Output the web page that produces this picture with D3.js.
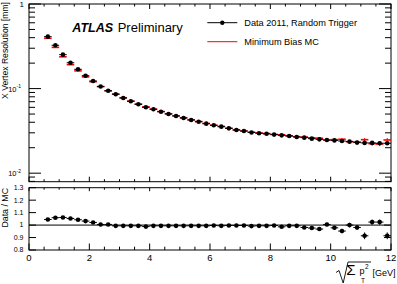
<!DOCTYPE html>
<html><head><meta charset="utf-8">
<script src="https://cdn.jsdelivr.net/npm/d3@7/dist/d3.min.js"></script>
<style>
html,body{margin:0;padding:0;background:#fff;}
svg{display:block;font-family:"Liberation Sans",Arial,Helvetica,sans-serif;}
</style></head><body>
<svg id="c" width="397" height="284"></svg>
<script>
// ---- data ----
const binCenters = [0.625,0.875,1.125,1.375,1.625,1.875,2.125,2.375,2.625,2.875,3.125,3.375,3.625,3.875,4.125,4.375,4.625,4.875,5.125,5.375,5.625,5.875,6.125,6.375,6.625,6.875,7.125,7.375,7.625,7.875,8.125,8.375,8.625,8.875,9.125,9.375,9.625,9.875,10.125,10.375,10.625,10.875,11.125,11.375,11.625,11.875];
const binHalfWidth = 0.125;
const dataRes = [0.411,0.325,0.252,0.202,0.169,0.142,0.123,0.106,0.0944,0.0857,0.0774,0.0708,0.0652,0.0601,0.0569,0.0533,0.0501,0.0474,0.0449,0.0425,0.0406,0.0385,0.0368,0.0355,0.0339,0.0324,0.0315,0.0303,0.0297,0.0292,0.0286,0.0280,0.0275,0.0268,0.0263,0.0256,0.0251,0.0247,0.0244,0.0240,0.0236,0.0230,0.0228,0.0228,0.0226,0.0226];
const mcRes = [0.3933,0.3069,0.2375,0.1918,0.1620,0.1376,0.1205,0.1055,0.0939,0.0862,0.0779,0.0712,0.0656,0.0608,0.0572,0.0536,0.0504,0.0477,0.0452,0.0428,0.0408,0.0387,0.0369,0.0357,0.0340,0.0325,0.0316,0.0305,0.0299,0.0294,0.0287,0.0284,0.0277,0.0270,0.0268,0.0262,0.0259,0.0246,0.0249,0.0252,0.0236,0.0234,0.0249,0.0223,0.0221,0.0247];
const mcErr = [0.002,0.0015,0.0012,0.001,0.0008,0.0007,0.0006,0.0005,0.0005,0.0004,0.0004,0.0004,0.0003,0.0003,0.0003,0.0003,0.0003,0.0003,0.0003,0.0003,0.0003,0.0003,0.0003,0.0003,0.0003,0.0003,0.0003,0.0003,0.0003,0.0004,0.0004,0.0005,0.0005,0.0005,0.0006,0.0006,0.0007,0.0007,0.0008,0.0008,0.0009,0.0009,0.0011,0.0011,0.0012,0.0013];
const ratio = [1.045,1.059,1.061,1.053,1.043,1.032,1.021,1.005,1.005,0.994,0.994,0.994,0.994,0.988,0.994,0.994,0.994,0.994,0.994,0.994,0.994,0.994,0.997,0.994,0.997,0.997,0.997,0.992,0.994,0.994,0.997,0.986,0.994,0.994,0.981,0.976,0.968,1.005,0.978,0.952,1.000,0.981,0.914,1.024,1.024,0.914];
const ratioErr = [0.004,0.004,0.004,0.004,0.004,0.004,0.004,0.004,0.004,0.004,0.004,0.004,0.004,0.004,0.004,0.004,0.004,0.004,0.004,0.004,0.004,0.006,0.006,0.006,0.006,0.006,0.006,0.006,0.006,0.006,0.006,0.008,0.008,0.008,0.012,0.012,0.012,0.014,0.015,0.018,0.018,0.02,0.027,0.02,0.02,0.027];
const xTicks = [0,2,4,6,8,10,12];
const ratioTicks = [0.8,0.9,1.0,1.1,1.2,1.3];
const ratioTickLabels = ["0.8","0.9","1","1.1","1.2","1.3"];
const legendLabels = ["Data 2011, Random Trigger","Minimum Bias MC"];

// ---- layout ----
const svg = d3.select("#c");
const L = 29, R = 391;
const T1 = 4, B1 = 181.7, T2 = 187.7, B2 = 250;
const x = d3.scaleLinear().domain([0,12]).range([L,R]);
const y = d3.scaleLog().domain([0.00793,1]).range([B1,T1]);
const yr = d3.scaleLinear().domain([0.8,1.3]).range([B2,T2]);

function line(g,x1,y1,x2,y2,col,w){ g.append("line").attr("x1",x1).attr("y1",y1).attr("x2",x2).attr("y2",y2).attr("stroke",col||"#000").attr("stroke-width",w||1); }

const g = svg.append("g");
// frames
g.append("rect").attr("x",L).attr("y",T1).attr("width",R-L).attr("height",B1-T1).attr("fill","none").attr("stroke","#000");
g.append("rect").attr("x",L).attr("y",T2).attr("width",R-L).attr("height",B2-T2).attr("fill","none").attr("stroke","#000");

// x ticks (minor each 0.5)
const xMinor = d3.range(0,12.01,0.5);
xMinor.forEach(v=>{
  const major = Math.abs(v/2-Math.round(v/2))<1e-6;
  const px = x(v);
  line(g,px,B1,px,B1-(major?5:2.5));
  line(g,px,T1,px,T1+(major?5:2.5));
  line(g,px,B2,px,B2-(major?6.5:3.3));
  line(g,px,T2,px,T2+(major?3.5:2));
});
// upper y log ticks
[0.01,0.1,1].forEach(dec=>{
  for(let k=1;k<=9;k++){
    const v = dec*k; if(v<0.00793||v>1.0001) continue;
    const len = k===1?12:6;
    line(g,L,y(v),L+len,y(v));
    line(g,R,y(v),R-len,y(v));
  }
});
for(let k=8;k<=9;k++){ const v=0.001*k; if(v>=0.00793){ line(g,L,y(v),L+6,y(v)); line(g,R,y(v),R-6,y(v)); } }
// upper y labels
g.append("text").attr("x",24).attr("y",y(1)+3).attr("text-anchor","end").attr("font-size",8).text("1");
[[0.1,"-1"],[0.01,"-2"]].forEach(([v,e])=>{
  const t = g.append("text").attr("x",21).attr("y",y(v)+3).attr("text-anchor","end").attr("font-size",7.5);
  t.append("tspan").text("10");
  t.append("tspan").attr("font-size",5).attr("dy",-3.5).text(e);
});
// lower y ticks
ratioTicks.forEach((v,i)=>{
  line(g,L,yr(v),L+7,yr(v));
  line(g,R,yr(v),R-7,yr(v));
  g.append("text").attr("x",23.5).attr("y",yr(v)+2.4).attr("text-anchor","end").attr("font-size",7).text(ratioTickLabels[i]);
});
// line at 1
line(g,L,yr(1),R,yr(1));
// x labels
xTicks.forEach(v=>{
  g.append("text").attr("x",x(v)).attr("y",261).attr("text-anchor","middle").attr("font-size",9.5).text(v);
});

// axis titles
g.append("text").attr("transform","translate(8,2) rotate(-90)").attr("text-anchor","end").attr("font-size",8.6).text("X Vertex Resolution [mm]");
g.append("text").attr("transform","translate(7.5,188) rotate(-90)").attr("text-anchor","end").attr("font-size",8.8).text("Data / MC");
// x title: sqrt(sum pT^2) [GeV]
g.append("path").attr("d","M336,272.5 L339,270.5 L343.2,283 L348,262 L371,262").attr("fill","none").attr("stroke","#000").attr("stroke-width",0.9);
g.append("text").attr("x",346.3).attr("y",275.2).attr("font-size",15).text("\u03A3");
g.append("text").attr("x",359.6).attr("y",274).attr("font-size",9).text("p");
g.append("text").attr("x",365).attr("y",268.5).attr("font-size",6.5).text("2");
g.append("text").attr("x",361).attr("y",283).attr("font-size",6.5).text("T");
g.append("text").attr("x",372.5).attr("y",275.5).attr("font-size",9).text("[GeV]");

// ATLAS label
g.append("text").attr("x",72.3).attr("y",32).attr("font-size",12.5).attr("font-weight","bold").attr("font-style","italic").text("ATLAS");
g.append("text").attr("x",117.7).attr("y",32).attr("font-size",13).text("Preliminary");

// legend
line(g,207.3,22.7,237.3,22.7,"#000",1);
g.append("circle").attr("cx",222.3).attr("cy",22.7).attr("r",2.2).attr("fill","#000");
g.append("text").attr("x",244.3).attr("y",26).attr("font-size",9.2).text(legendLabels[0]);
line(g,207.3,41.7,237.3,41.7,"#ff0000",1);
g.append("text").attr("x",244.3).attr("y",45).attr("font-size",9.2).text(legendLabels[1]);

// MC (red)
const mc = svg.append("g");
binCenters.forEach((c,i)=>{
  const v = mcRes[i];
  line(mc,x(c-binHalfWidth),y(v),x(c+binHalfWidth),y(v),"#ff0000",1.6);
  line(mc,x(c),y(v+mcErr[i]),x(c),y(v-mcErr[i]),"#ff0000",1);
});
// Data (black)
const dg = svg.append("g");
binCenters.forEach((c,i)=>{
  const v = dataRes[i];
  line(dg,x(c-binHalfWidth),y(v),x(c+binHalfWidth),y(v),"#000",1);
  dg.append("circle").attr("cx",x(c)).attr("cy",y(v)).attr("r",2.3).attr("fill","#000");
});
// Ratio
const rg = svg.append("g");
binCenters.forEach((c,i)=>{
  const v = ratio[i];
  line(rg,x(c-binHalfWidth),yr(v),x(c+binHalfWidth),yr(v),"#000",1);
  line(rg,x(c),yr(v+ratioErr[i]),x(c),yr(v-ratioErr[i]),"#000",1);
  rg.append("circle").attr("cx",x(c)).attr("cy",yr(v)).attr("r",2.3).attr("fill","#000");
});
</script>
</body></html>
